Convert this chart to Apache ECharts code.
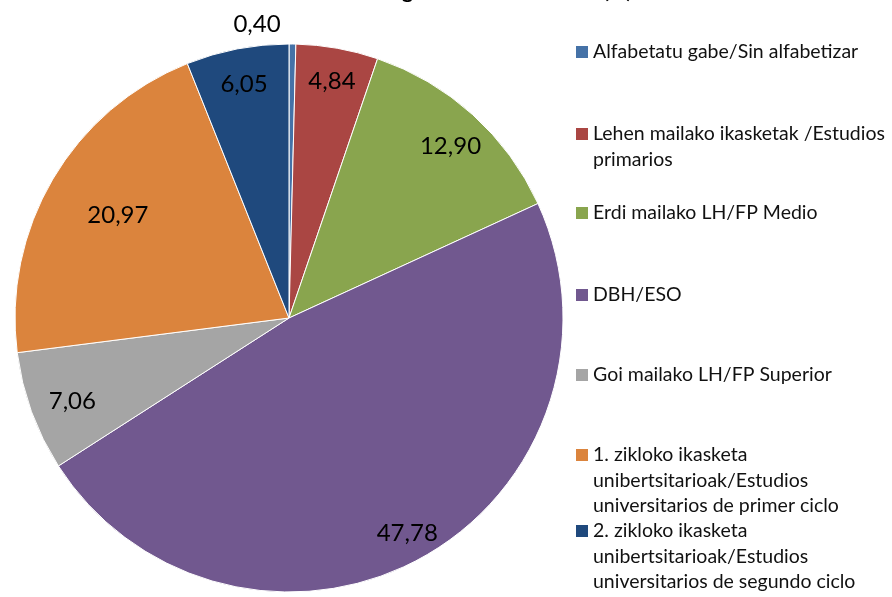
<!DOCTYPE html>
<html>
<head>
<meta charset="utf-8">
<script src="https://cdn.jsdelivr.net/npm/echarts@6/dist/echarts.min.js"></script>
<style>
  html, body { margin: 0; padding: 0; background: #fff; }
  #chart { width: 892px; height: 597px; }
</style>
</head>
<body>
<div id="chart"></div>
<script>
// Education level categories (legend names, wrapped as in the legend box)
const categories = [
  'Alfabetatu gabe/Sin alfabetizar',
  'Lehen mailako ikasketak /Estudios\nprimarios',
  'Erdi mailako LH/FP Medio',
  'DBH/ESO',
  'Goi mailako LH/FP Superior',
  '1. zikloko ikasketa\nunibertsitarioak/Estudios\nuniversitarios de primer ciclo',
  '2. zikloko ikasketa\nunibertsitarioak/Estudios\nuniversitarios de segundo ciclo'
];

// Share of each level (%)
const values = [0.40, 4.84, 12.90, 47.78, 7.06, 20.97, 6.05];

const chartTitle = 'Ikasketa mailaren araberako banaketa /\nDistribución según nivel de estudios (%)';

// Styling
const colors = ['#4572A7', '#AA4643', '#89A54E', '#71588F', '#A5A5A5', '#DB843D', '#1F497D'];
const labelNudge = [[-35, -56], [1, -2], [2, 5], [4, 6], [7, 2], [34, 18], [0, 0]];
const legendIconY = [52, 134, 213, 295, 375, 455, 531];
const LINE_H = 25.5;
const FONT = 'Lato, "Open Sans", sans-serif';
const CENTER = [289, 318];
const RADIUS = 274;

const fmt = v => v.toFixed(2).replace('.', ',');
const lineCount = s => s.split('\n').length;

// one legend per entry so the icon sits on the first line of wrapped names
const legends = categories.map((name, i) => {
  const n = lineCount(name);
  return {
    orient: 'vertical',
    left: 576,
    top: legendIconY[i] - (2 * n - 1) * LINE_H / 2,
    padding: 0,
    itemWidth: 12,
    itemHeight: 12,
    itemGap: 0,
    icon: 'rect',
    selectedMode: false,
    data: [name],
    itemStyle: { borderWidth: 0 },
    // leading blank lines keep the first text line centred on the icon
    formatter: nm => '\n'.repeat(lineCount(nm) - 1) + nm,
    textStyle: {
      fontFamily: FONT,
      fontSize: 19.5,
      color: '#111',
      lineHeight: LINE_H
    }
  };
});

const chart = echarts.init(document.getElementById('chart'), null, { renderer: 'canvas' });
chart.setOption({
  animation: false,
  backgroundColor: '#fff',
  graphic: [{
    type: 'text',
    x: 632,
    y: 4,
    silent: true,
    style: {
      text: chartTitle,
      align: 'right',
      verticalAlign: 'bottom',
      fill: '#000',
      font: 'bold 21px ' + FONT,
      lineHeight: 26
    }
  }],
  legend: legends,
  series: [
    {
      type: 'pie',
      center: CENTER,
      radius: [0, RADIUS],
      startAngle: 90,
      clockwise: true,
      silent: true,
      avoidLabelOverlap: false,
      label: { show: false },
      labelLine: { show: false },
      itemStyle: { borderColor: '#fff', borderWidth: 1 },
      data: categories.map((name, i) => ({ name, value: values[i], itemStyle: { color: colors[i] } }))
    },
    {
      // ring used only to place the value labels
      type: 'pie',
      center: CENTER,
      radius: [196, RADIUS],
      startAngle: 90,
      clockwise: true,
      silent: true,
      avoidLabelOverlap: false,
      itemStyle: { color: 'rgba(0,0,0,0)' },
      label: {
        show: true,
        position: 'inside',
        fontFamily: FONT,
        fontSize: 24,
        color: '#000',
        formatter: p => fmt(p.value)
      },
      labelLine: { show: false },
      labelLayout: p => ({ dx: labelNudge[p.dataIndex][0], dy: labelNudge[p.dataIndex][1] }),
      data: categories.map((name, i) => ({ name, value: values[i] }))
    }
  ]
});
</script>
</body>
</html>
